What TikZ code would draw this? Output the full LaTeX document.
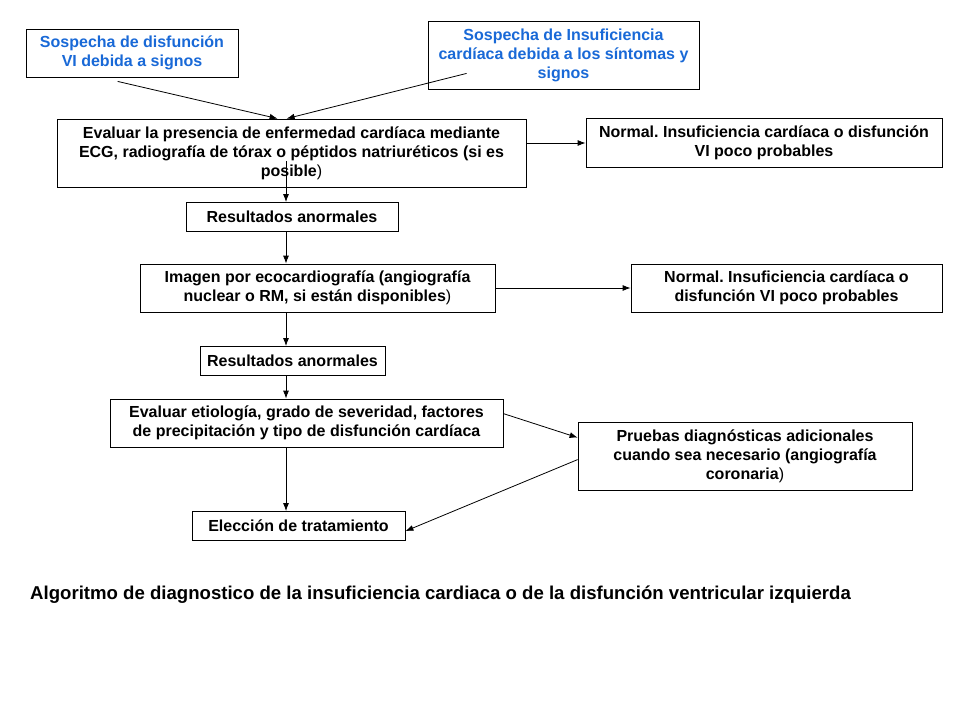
\documentclass[tikz,border=0pt]{standalone}
\usepackage{fontspec}
\setmainfont{Liberation Sans}
\usepackage{xcolor}
\definecolor{azul}{RGB}{25,105,215}
\usepackage{tikz}
\usetikzlibrary{arrows.meta,calc,positioning}
\frenchspacing
\begin{document}
\begin{tikzpicture}[x=1pt,y=-1pt,>={Latex[length=8pt,width=6pt]},
    caja/.style={draw,line width=0.8pt,align=center,inner sep=0pt,
      font=\bfseries\fontsize{16}{19}\selectfont},
    sospecha/.style={caja,text=azul},
    flecha/.style={->,line width=0.8pt}]
  \useasboundingbox[fill=white](0,0) rectangle (960,720);
  \coordinate (eje) at (286,0);
  % sospechas
  \node[sospecha,minimum width=212,minimum height=48](sdvi) at(132,53){Sospecha de disfunción\\VI debida a signos};
  \node[sospecha,minimum width=271,minimum height=68](sic) at(563.5,55){Sospecha de Insuficiencia\\cardíaca debida a los síntomas y\\signos};
  % primera evaluacion
  \node[caja,minimum width=469,minimum height=68](eval1) at(291.5,153){Evaluar la presencia de enfermedad cardíaca mediante\\ECG, radiografía de tórax o péptidos natriuréticos (si es\\posible\textmd{)}};
  \node[caja,minimum width=356,minimum height=49](norm1) at(764,143){Normal. Insuficiencia cardíaca o disfunción\\VI poco probables};
  \node[caja,minimum width=212,minimum height=29](res1) at(292,217){Resultados anormales};
  % imagen
  \node[caja,minimum width=355,minimum height=48](imag) at(317.5,288){Imagen por ecocardiografía (angiografía\\nuclear o RM, si están disponibles\textmd{)}};
  \node[caja,minimum width=311,minimum height=48](norm2) at(786.5,288){Normal. Insuficiencia cardíaca o\\disfunción VI poco probables};
  \node[caja,minimum width=185,minimum height=29](res2) at(292.5,361){Resultados anormales};
  % etiologia y tratamiento
  \node[caja,minimum width=393,minimum height=48](etio) at(306.5,423){Evaluar etiología, grado de severidad, factores\\de precipitación y tipo de disfunción cardíaca};
  \node[caja,minimum width=334,minimum height=68](prue) at(745,456){Pruebas diagnósticas adicionales\\cuando sea necesario (angiografía\\coronaria\textmd{)}};
  \node[caja,minimum width=213,minimum height=29](trat) at(298.5,526){Elección de tratamiento};
  \node[anchor=west,inner sep=0pt,font=\bfseries\fontsize{18.6}{22}\selectfont](titulo) at(30,595){Algoritmo de diagnostico de la insuficiencia cardiaca o de la disfunción ventricular izquierda};
  % flechas
  \draw[flecha]($(sdvi.south west)+(92,4)$)--($(eval1.north west)+(221,0)$);
  \draw[flecha]($(sic.south west)+(39,-16)$)--($(eval1.north west)+(230,0)$);
  \draw[flecha](eval1.east|-norm1.west)--(norm1.west);
  \draw[flecha]($(eval1.south -| eje)+(0,-26)$)--(res1.north -| eje);
  \draw[flecha](res1.south -| eje)--(imag.north -| eje);
  \draw[flecha](imag.east|-norm2.west)--(norm2.west);
  \draw[flecha](imag.south -| eje)--(res2.north -| eje);
  \draw[flecha](res2.south -| eje)--(etio.north -| eje);
  \draw[flecha]($(etio.north east)+(0,15)$)--($(prue.north west)+(0,16)$);
  \draw[flecha](etio.south -| eje)--(trat.north -| eje);
  \draw[flecha]($(prue.north west)+(0,38)$)--($(trat.north east)+(0,20)$);
\end{tikzpicture}
\end{document}
